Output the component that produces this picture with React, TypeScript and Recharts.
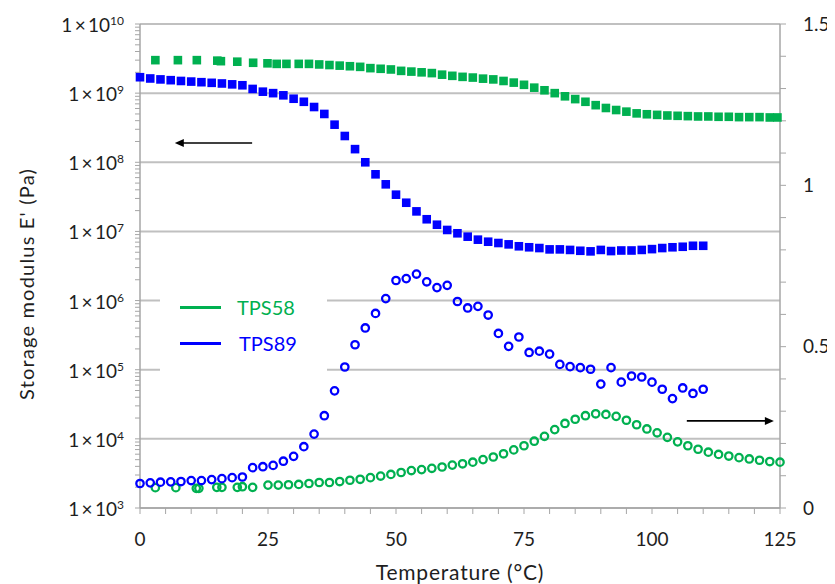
import React from "react";
import {
  ScatterChart,
  Scatter,
  XAxis,
  YAxis,
  ReferenceLine,
  Legend,
  Label,
} from "recharts";

// ---------- data ----------
// TPS58 storage modulus E' (Pa)
const tps58ET = [3, 7.4, 11.1, 15.1, 15.8, 19, 22.1, 24.9, 26.7, 28.6, 31, 33, 35, 37, 39, 41, 43, 45, 47, 49, 51, 53, 55, 57, 59, 61, 63, 65, 67, 69, 71, 73, 75, 77, 79, 81, 83, 85, 87, 89, 91, 93, 95, 97, 99, 101, 103, 105, 107, 109, 111, 113, 115, 117, 119, 121, 123, 124.5];
const tps58E = [3.0e9, 3.0e9, 3.0e9, 2.95e9, 2.9e9, 2.85e9, 2.75e9, 2.7e9, 2.65e9, 2.65e9, 2.65e9, 2.65e9, 2.6e9, 2.55e9, 2.5e9, 2.45e9, 2.4e9, 2.3e9, 2.25e9, 2.2e9, 2.1e9, 2.05e9, 2.0e9, 1.95e9, 1.85e9, 1.78e9, 1.72e9, 1.68e9, 1.62e9, 1.58e9, 1.5e9, 1.42e9, 1.32e9, 1.2e9, 1.1e9, 1.0e9, 9.0e8, 8.2e8, 7.5e8, 6.7e8, 6.1e8, 5.7e8, 5.4e8, 5.1e8, 4.95e8, 4.85e8, 4.75e8, 4.7e8, 4.65e8, 4.6e8, 4.6e8, 4.55e8, 4.55e8, 4.5e8, 4.5e8, 4.5e8, 4.45e8, 4.45e8];

// TPS89 storage modulus E' (Pa)
const tps89ET = [0, 2, 4, 6, 8, 10, 12, 14, 16, 18, 20, 22, 24, 26, 28, 30, 32, 34, 36, 38, 40, 42, 44, 46, 48, 50, 52, 54, 56, 58, 60, 62, 64, 66, 68, 70, 72, 74, 76, 78, 80, 82, 84, 86, 88, 90, 92, 94, 96, 98, 100, 102, 104, 106, 108, 110];
const tps89E = [1.7e9, 1.63e9, 1.58e9, 1.54e9, 1.5e9, 1.47e9, 1.44e9, 1.41e9, 1.38e9, 1.34e9, 1.3e9, 1.15e9, 1.05e9, 1.0e9, 9.3e8, 8.3e8, 7.5e8, 6.3e8, 5.0e8, 3.5e8, 2.4e8, 1.55e8, 1.0e8, 6.7e7, 4.8e7, 3.4e7, 2.6e7, 1.95e7, 1.5e7, 1.25e7, 1.05e7, 9.4e6, 8.4e6, 7.6e6, 7.1e6, 6.8e6, 6.5e6, 6.1e6, 5.9e6, 5.75e6, 5.5e6, 5.5e6, 5.4e6, 5.25e6, 5.15e6, 5.4e6, 5.2e6, 5.3e6, 5.3e6, 5.4e6, 5.55e6, 5.75e6, 5.9e6, 6.0e6, 6.2e6, 6.2e6];

// TPS58 tan delta
const tps58TanT = [3, 7, 11, 11.5, 15, 16, 19, 20, 22, 25, 27, 29, 31, 33, 35, 37, 39, 41, 43, 45, 47, 49, 51, 53, 55, 57, 59, 61, 63, 65, 67, 69, 71, 73, 75, 77, 79, 81, 83, 85, 87, 89, 91, 93, 95, 97, 99, 101, 103, 105, 107, 109, 111, 113, 115, 117, 119, 121, 123, 125];
const tps58Tan = [0.063, 0.063, 0.061, 0.061, 0.064, 0.064, 0.064, 0.066, 0.064, 0.071, 0.071, 0.072, 0.073, 0.076, 0.079, 0.079, 0.082, 0.086, 0.089, 0.094, 0.099, 0.104, 0.11, 0.116, 0.119, 0.123, 0.127, 0.133, 0.137, 0.142, 0.15, 0.158, 0.168, 0.18, 0.193, 0.207, 0.222, 0.243, 0.262, 0.275, 0.286, 0.292, 0.29, 0.284, 0.272, 0.258, 0.245, 0.233, 0.219, 0.205, 0.193, 0.182, 0.173, 0.166, 0.161, 0.156, 0.152, 0.148, 0.144, 0.142];

// TPS89 tan delta
const tps89TanT = [0, 2, 4, 6, 8, 10, 12, 14, 16, 18, 20, 22, 24, 26, 28, 30, 32, 34, 36, 38, 40, 42, 44, 46, 48, 50, 52, 54, 56, 58, 60, 62, 64, 66, 68, 70, 72, 74, 76, 78, 80, 82, 84, 86, 88, 90, 92, 94, 96, 98, 100, 102, 104, 106, 108, 110];
const tps89Tan = [0.076, 0.078, 0.08, 0.081, 0.082, 0.085, 0.085, 0.088, 0.091, 0.094, 0.096, 0.125, 0.128, 0.132, 0.145, 0.16, 0.19, 0.229, 0.286, 0.363, 0.437, 0.506, 0.558, 0.603, 0.649, 0.705, 0.711, 0.725, 0.701, 0.683, 0.69, 0.64, 0.62, 0.625, 0.598, 0.541, 0.501, 0.53, 0.482, 0.486, 0.477, 0.445, 0.438, 0.435, 0.43, 0.384, 0.435, 0.39, 0.409, 0.406, 0.39, 0.368, 0.339, 0.372, 0.355, 0.368];

// axis ticks
const xTicks = [0, 5, 10, 15, 20, 25, 30, 35, 40, 45, 50, 55, 60, 65, 70, 75, 80, 85, 90, 95, 100, 105, 110, 115, 120, 125];
const xLabels = [0, 25, 50, 75, 100, 125];
const decades = [1e3, 1e4, 1e5, 1e6, 1e7, 1e8, 1e9, 1e10];
const minorMultipliers = [2, 3, 4, 5, 6, 7, 8, 9];
const rightTicks = [0, 0.1, 0.2, 0.3, 0.4, 0.5, 0.6, 0.7, 0.8, 0.9, 1, 1.1, 1.2, 1.3, 1.4, 1.5];
const rightLabels = [0, 0.5, 1, 1.5];

// annotation arrows (data coords)
const leftArrow = [{ x: 21.9, y: 1.9e8 }, { x: 6.8, y: 1.9e8 }];
const rightArrow = [{ x: 106.8, y: 0.27 }, { x: 123.8, y: 0.27 }];

// ---------- build tables ----------
const zip = (ts: number[], vs: number[], key: string) =>
  ts.map((t, i) => ({ t, [key]: vs[i] }));

const d58E = zip(tps58ET, tps58E, "e");
const d89E = zip(tps89ET, tps89E, "e");
const d58Tan = zip(tps58TanT, tps58Tan, "v");
const d89Tan = zip(tps89TanT, tps89Tan, "v");

const leftTicks: number[] = [];
decades.forEach((d, i) => {
  leftTicks.push(d);
  if (i < decades.length - 1) minorMultipliers.forEach((m) => leftTicks.push(d * m));
});

const GREEN = "#00B050";
const BLUE = "#0000FF";
const AXIS = "#a6a6a6";
const GRID = "#c0c0c0";
const FONT = "Lato, 'Open Sans', sans-serif";
const TXT = "#1e1e1e";

const square = (color: string) => (p: any) =>
  <rect x={p.cx - 4.3} y={p.cy - 4.3} width={8.6} height={8.6} fill={color} />;
const ring = (color: string) => (p: any) =>
  <circle cx={p.cx} cy={p.cy} r={3.7} fill="none" stroke={color} strokeWidth={2.3} />;

const LeftTick = (props: any) => {
  const { x, y, payload } = props;
  const v = payload.value;
  const exp = Math.round(Math.log10(v));
  if (Math.abs(v - Math.pow(10, exp)) > v * 1e-6) return <g />;
  return (
    <text x={x} y={y} dy={8} textAnchor="end" fontSize={19} fill={TXT} fontFamily={FONT}>
      1{"\u2009"}×{"\u2009"}10<tspan dy={-7} fontSize={12}>{exp}</tspan>
    </text>
  );
};

const arrowShape = (p: any) => {
  const { x1, y1, x2, y2 } = p;
  const dir = x2 > x1 ? 1 : -1;
  const hx = x2;
  return (
    <g>
      <line x1={x1} y1={y1} x2={x2 - dir * 6} y2={y2} stroke="#000" strokeWidth={1.6} />
      <polygon points={`${hx},${y2} ${hx - dir * 9},${y2 - 4} ${hx - dir * 9},${y2 + 4}`} fill="#000" />
    </g>
  );
};

const LegendBox = () => (
  <div style={{ width: 167, height: 122, background: "#fff", position: "relative", fontFamily: FONT }}>
    <div style={{ position: "absolute", left: 20, top: 36, width: 41, height: 2.5, background: GREEN }} />
    <div style={{ position: "absolute", left: 77, top: 25, fontSize: 20, color: GREEN, lineHeight: "24px" }}>TPS58</div>
    <div style={{ position: "absolute", left: 20, top: 72, width: 41, height: 2.5, background: BLUE }} />
    <div style={{ position: "absolute", left: 79, top: 61, fontSize: 20, color: BLUE, lineHeight: "24px" }}>TPS89</div>
  </div>
);

export default function App() {
  return (
    <ScatterChart width={827} height={576} margin={{ top: 16, right: 0, bottom: 0, left: 0 }}>
      <XAxis
        type="number"
        dataKey="t"
        domain={[0, 125]}
        ticks={xTicks}
        interval={0}
        tickFormatter={(v: number) => (xLabels.includes(v) ? String(v) : "")}
        tickSize={6}
        tickMargin={19}
        height={76}
        axisLine={{ stroke: AXIS, strokeWidth: 1.5 }}
        tickLine={{ stroke: AXIS }}
        tick={{ fill: TXT, fontSize: 19, fontFamily: FONT }}
      >
        <Label value="Temperature (°C)" position="insideBottom" offset={4} fontSize={21} letterSpacing={0.8} fill={TXT} fontFamily={FONT} />
      </XAxis>
      <YAxis
        yAxisId="left"
        type="number"
        dataKey="e"
        scale="log"
        domain={[1e3, 1e10]}
        allowDataOverflow
        ticks={leftTicks}
        interval={0}
        width={132}
        tickSize={5}
        tickMargin={11}
        tick={<LeftTick />}
        axisLine={{ stroke: AXIS, strokeWidth: 1.5 }}
        tickLine={{ stroke: AXIS }}
      >
        <Label
          content={() => (
            <text
              x={0}
              y={0}
              transform={`translate(26, ${276}) rotate(-90)`}
              textAnchor="middle"
              fontSize={20}
              letterSpacing={1.2}
              fill={TXT}
              fontFamily={FONT}
            >
              Storage modulus E' (Pa)
            </text>
          )}
        />
      </YAxis>
      <YAxis
        yAxisId="right"
        orientation="right"
        type="number"
        dataKey="v"
        domain={[0, 1.5]}
        ticks={rightTicks}
        interval={0}
        width={55}
        tickSize={6}
        tickMargin={17}
        tickFormatter={(v: number) => (rightLabels.some((r) => Math.abs(r - v) < 1e-6) ? String(v) : "")}
        axisLine={{ stroke: AXIS, strokeWidth: 1.5 }}
        tickLine={{ stroke: AXIS }}
        tick={{ fill: TXT, fontSize: 19, fontFamily: FONT, textAnchor: "start" }}
      >
        <Label
          content={() => (
            <text
              x={0}
              y={0}
              transform={`translate(836, 256) rotate(-90)`}
              textAnchor="middle"
              fontSize={19}
              fill={TXT}
              fontFamily={FONT}
            >
              tan δ
            </text>
          )}
        />
      </YAxis>

      {decades.map((d) => (
        <ReferenceLine key={d} yAxisId="left" y={d} stroke={GRID} strokeWidth={2} />
      ))}

      <Scatter yAxisId="left" data={d58E} shape={square(GREEN)} isAnimationActive={false} />
      <Scatter yAxisId="left" data={d89E} shape={square(BLUE)} isAnimationActive={false} />
      <Scatter yAxisId="right" data={d58Tan} shape={ring(GREEN)} isAnimationActive={false} />
      <Scatter yAxisId="right" data={d89Tan} shape={ring(BLUE)} isAnimationActive={false} />

      <ReferenceLine yAxisId="left" segment={leftArrow} shape={arrowShape} />
      <ReferenceLine yAxisId="right" segment={rightArrow} shape={arrowShape} />

      <Legend
        layout="vertical"
        align="center"
        verticalAlign="middle"
        content={() => <LegendBox />}
        wrapperStyle={{ position: "absolute", left: 152, top: 262, width: 167, height: 122 }}
      />
    </ScatterChart>
  );
}
